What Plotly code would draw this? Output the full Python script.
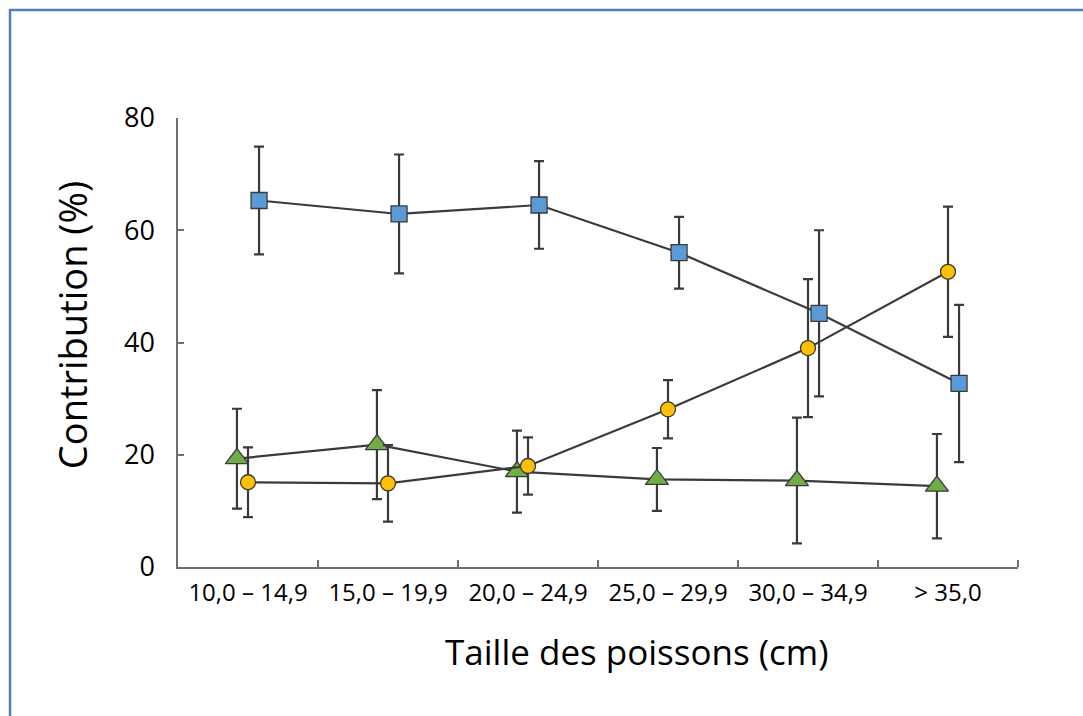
import plotly.graph_objects as go

categories = ["10,0 – 14,9", "15,0 – 19,9", "20,0 – 24,9", "25,0 – 29,9", "30,0 – 34,9", "> 35,0"]
blue_vals = [65.3, 62.9, 64.5, 56.0, 45.2, 32.7]
blue_err = [9.6, 10.6, 7.8, 6.4, 14.8, 14.0]
orange_vals = [15.1, 14.9, 18.0, 28.1, 39.0, 52.6]
orange_err = [6.2, 6.8, 5.1, 5.2, 12.3, 11.6]
green_vals = [19.3, 21.8, 17.0, 15.6, 15.4, 14.4]
green_err = [8.9, 9.7, 7.3, 5.6, 11.2, 9.3]
y_ticks = [0, 20, 40, 60, 80]

FONT = "Open Sans"
DARK = "#3a3a3a"
idx = list(range(len(categories)))


def series(vals, errs, offset, symbol, size, color):
    return go.Scatter(
        x=[i + offset for i in idx], y=vals,
        mode="lines+markers",
        line=dict(color=DARK, width=2.2),
        marker=dict(symbol=symbol, size=size, color=color,
                    line=dict(color=DARK, width=1.3)),
        error_y=dict(type="data", array=errs, visible=True,
                     color=DARK, thickness=2.2, width=5),
        showlegend=False, hoverinfo="skip",
    )


fig = go.Figure()
fig.add_trace(series(green_vals, green_err, -0.079, "triangle-up", 20, "#70AD47"))
fig.add_trace(series(orange_vals, orange_err, 0.0, "circle", 15, "#FFC000"))
fig.add_trace(series(blue_vals, blue_err, 0.079, "square", 16, "#5B9BD5"))

fig.update_layout(
    width=1083, height=716,
    margin=dict(l=178, r=65, t=118, b=149),
    paper_bgcolor="white", plot_bgcolor="white",
    font=dict(family=FONT, color="black"),
    xaxis=dict(
        range=[-0.5, len(categories) - 0.5],
        tickvals=idx, ticktext=categories,
        ticks="", showgrid=False, zeroline=False,
        showline=True, linecolor="#6f6f6f", linewidth=1.5,
        tickfont=dict(size=24, family=FONT, color="black"),
        ticklabelstandoff=3,
        minor=dict(tickvals=[i + 0.5 for i in idx], ticks="inside",
                   ticklen=7, tickcolor="#6f6f6f", tickwidth=1.5, showgrid=False),
    ),
    yaxis=dict(
        range=[0, 80], tickvals=y_ticks,
        ticks="inside", ticklen=6, tickcolor="#6f6f6f", tickwidth=1.5,
        showgrid=False, zeroline=False,
        showline=True, linecolor="#6f6f6f", linewidth=1.5,
        tickfont=dict(size=27, family=FONT, color="black"),
        ticklabelstandoff=16,
    ),
    annotations=[
        dict(text="Contribution (%)", xref="paper", yref="paper",
             x=-0.126, y=0.539, textangle=-90, showarrow=False,
             xanchor="center", yanchor="middle",
             font=dict(size=38, family=FONT, color="black")),
        dict(text="Taille des poissons (cm)", xref="paper", yref="paper",
             x=0.546, y=-0.189, showarrow=False,
             xanchor="center", yanchor="middle",
             font=dict(size=35, family=FONT, color="black")),
    ],
    shapes=[
        dict(type="rect", xref="paper", yref="paper",
             x0=-0.2, y0=-0.34, x1=1.085, y1=1.2405,
             line=dict(color="#4F7EBF", width=2.5), layer="below"),
    ],
)

fig.write_html("out.html", config={"displayModeBar": False},
               post_script="document.body.style.margin='0';document.body.style.overflow='hidden';")
